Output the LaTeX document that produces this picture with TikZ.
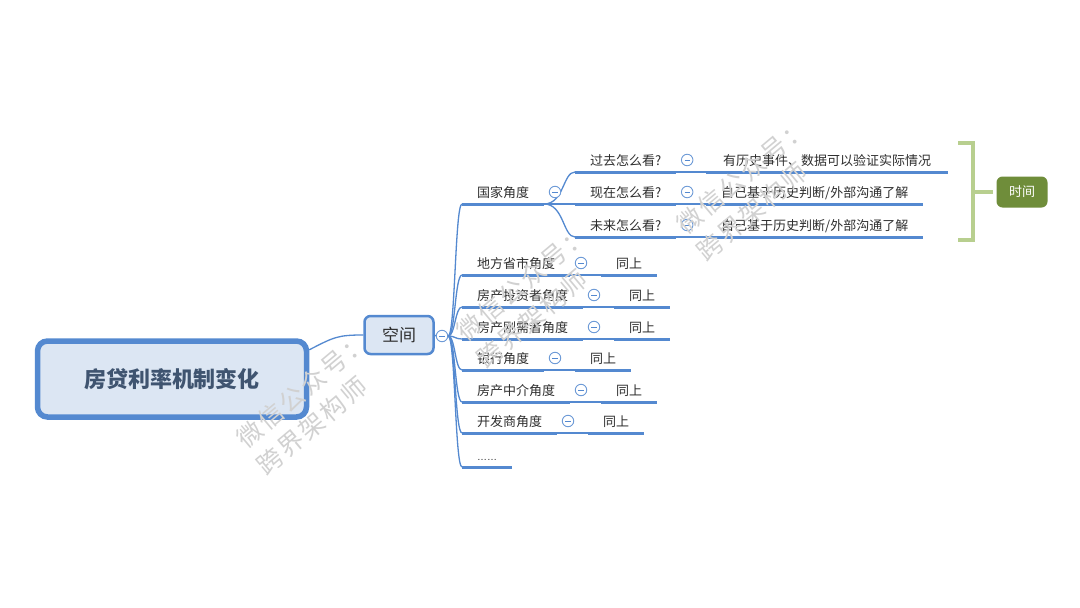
\documentclass[tikz,border=0pt]{standalone}
\usepackage{fontspec}
\setmainfont{Noto Sans CJK SC}
\newfontfamily\wmfont[LetterSpace=10]{Noto Sans CJK SC}
\newfontfamily\latinfont{Liberation Sans}
\usetikzlibrary{calc}
\definecolor{mblue}{HTML}{5489D0}
\definecolor{rootfill}{HTML}{DCE6F3}
\definecolor{roottext}{HTML}{3F5470}
\definecolor{txt}{HTML}{2E2E2E}
\definecolor{gbr}{HTML}{B8CF8F}
\definecolor{gnode}{HTML}{6F8D3A}
\begin{document}
\begin{tikzpicture}[x=1pt,y=-1pt,
  topic/.style={font=\fontsize{13}{13}\selectfont, text=txt, inner xsep=15pt, inner ysep=7pt,
    text height=10pt, text depth=0pt, anchor=south west, outer sep=0pt},
  uline/.style={draw=mblue, line width=3pt},
  conn/.style={draw=mblue, line width=1.3pt},
  coll/.style={circle, draw=mblue!85, line width=0.9pt, fill=white, minimum size=11.5pt, inner sep=0pt,
    path picture={\draw[mblue, line width=0.8pt] ([xshift=-2.6pt]path picture bounding box.center) -- ([xshift=2.6pt]path picture bounding box.center);}},
  rootbox/.style={draw=mblue, line width=5.5pt, fill=rootfill, rounded corners=10pt,
    minimum width=269pt, minimum height=76pt, inner sep=0pt,
    font=\fontsize{22}{22}\selectfont\bfseries, text=roottext},
  subbox/.style={draw=mblue, line width=2.5pt, fill=rootfill, rounded corners=6pt,
    minimum width=69pt, minimum height=38pt, inner sep=0pt,
    font=\fontsize{17}{17}\selectfont, text=txt},
  timebox/.style={fill=gnode, rounded corners=6pt, minimum width=51pt, minimum height=31pt,
    inner sep=0pt, text=white, font=\fontsize{13}{13}\selectfont},
  brk/.style={draw=gbr, line width=4pt},
  wm/.style={rotate=40, font=\wmfont\fontsize{25}{25}\selectfont, text=black!18, inner sep=0pt}
]
\useasboundingbox (0,0) rectangle (1080,608);
\fill[white] (0,0) rectangle (1080,608);

% central nodes
\node[rootbox] (r) at (172,379) {房贷利率机制变化};
\node[subbox] (kj) at (399,335) {空间};
\node[coll] (c0) at (442,336) {};
\draw[conn] (r.12) .. controls +(25,-13) and +(-25,0) .. (kj.west);
\draw[conn] (kj.east) -- (c0.west);

% first-level topics
\node[topic] (t1) at (462,204) {国家角度};
\node[topic] (t2) at (462,275) {地方省市角度};
\node[topic] (t3) at (462,307) {房产投资者角度};
\node[topic] (t4) at (462,339) {房产刚需者角度};
\node[topic] (t5) at (462,370) {银行角度};
\node[topic] (t6) at (462,402) {房产中介角度};
\node[topic] (t7) at (462,433) {开发商角度};
\node[topic] (t8) at (462,467) {\latinfont\fontsize{10}{10}\selectfont ……};

\foreach \n in {t1,t2,t3,t4,t5,t6,t7,t8}{
  \draw[conn] (c0.east) .. controls +(7,0) and +(-7,0) .. (\n.south west);
}

% children of 国家角度
\node[topic] (s1) at ($(t1.south east)+(31,-32)$) {过去怎么看?};
\node[topic] (s2) at ($(t1.south east)+(31,0)$) {现在怎么看?};
\node[topic] (s3) at ($(t1.south east)+(31,33)$) {未来怎么看?};
\foreach \n in {s1,s2,s3}{
  \draw[conn] (t1.south east) .. controls +(20,0) and +(-12,0) .. (\n.south west);
}
\node[topic, inner xsep=17pt] (l1) at ($(s1.south east)+(30,0)$) {有历史事件、数据可以验证实际情况};
\node[topic] (l2) at ($(s2.south east)+(30,0)$) {自己基于历史判断/外部沟通了解};
\node[topic] (l3) at ($(s3.south east)+(30,0)$) {自己基于历史判断/外部沟通了解};
\draw[conn] (s1.south east) -- (l1.south west);
\draw[conn] (s2.south east) -- (l2.south west);
\draw[conn] (s3.south east) -- (l3.south west);

% 同上 leaves
\foreach \i in {2,...,7}{
  \node[topic] (u\i) at ($(t\i.south east)+(31,0)$) {同上};
  \draw[conn] (t\i.south east) -- (u\i.south west);
}

% underlines
\foreach \n in {t1,t2,t3,t4,t5,t6,t7,t8,s1,s2,s3,l1,l2,l3,u2,u3,u4,u5,u6,u7}{
  \draw[uline] (\n.south west) -- (\n.south east);
}

% collapse markers
\foreach \n in {t1,t2,t3,t4,t5,t6,t7,s1,s2,s3}{
  \node[coll] (k\n) at ($(\n.south east)+(11,-12)$) {};
}

% summary bracket and 时间
\node[timebox] (tm) at (1022,192) {时间};
\coordinate (b1) at (958,143);
\coordinate (b2) at (973,143);
\coordinate (b3) at (973,240);
\coordinate (b4) at (958,240);
\coordinate (bm) at (973,192);
\draw[brk] (b1) -- (b2) -- (b3) -- (b4);
\draw[brk] (bm) -- ($(tm.west)+(-3,0)$);

% watermarks
\node[wm] (w1a) at (302.5,390) {微信公众号：};
\node[wm] (w1b) at (312,426) {跨界架构师};
\node[wm] (w2a) at (522.5,283) {微信公众号：};
\node[wm] (w2b) at (532,319) {跨界架构师};
\node[wm] (w3a) at (742.5,176) {微信公众号：};
\node[wm] (w3b) at (752,212) {跨界架构师};
\end{tikzpicture}
\end{document}
